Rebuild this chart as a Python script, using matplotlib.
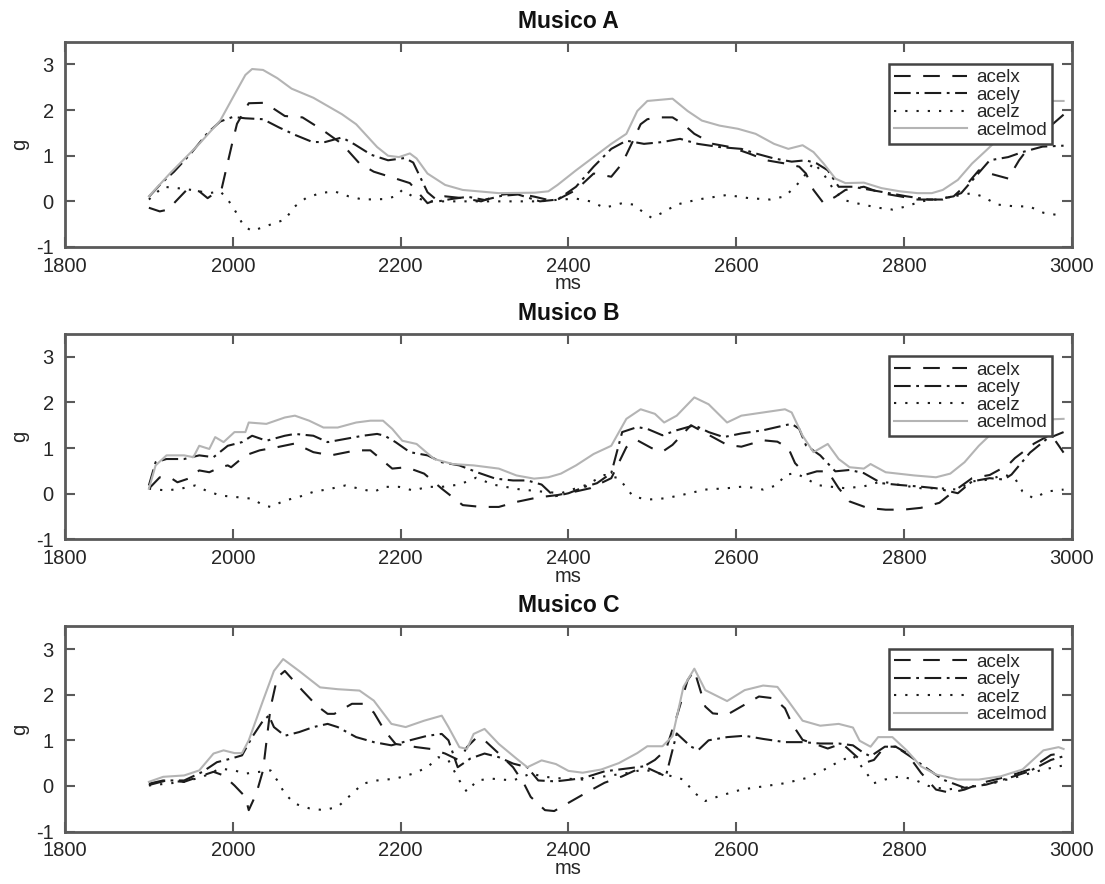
import matplotlib
matplotlib.use("Agg")
import matplotlib.pyplot as plt

plt.rcParams['font.family'] = ['Liberation Sans', 'DejaVu Sans']
plt.rcParams['lines.scale_dashes'] = False
plt.rcParams['axes.unicode_minus'] = False

# ---------------- Musico A ----------------
a_x_t = [1900, 1913, 1923, 1932, 1945, 1960, 1970, 1980, 1987, 2000, 2005, 2019, 2038, 2062, 2083,
         2108, 2130, 2151, 2168, 2194, 2211, 2232, 2253, 2274, 2296, 2317, 2338, 2360, 2383, 2409,
         2430, 2451, 2464, 2477, 2486, 2494, 2507, 2524, 2537, 2550, 2572, 2593, 2615, 2636, 2658,
         2675, 2683, 2692, 2704, 2718, 2730, 2752, 2773, 2795, 2816, 2838, 2859, 2876, 2889, 2902,
         2924, 2937, 2949, 2965, 2990]
a_x = [-0.14, -0.22, -0.18, 0.0, 0.25, 0.22, 0.07, 0.2, 0.3, 1.33, 1.7, 2.15, 2.16, 1.87, 1.84,
       1.55, 1.26, 0.83, 0.65, 0.5, 0.4, -0.04, 0.11, 0.07, 0.0, 0.14, 0.18, 0.1, 0.0, 0.25,
       0.61, 0.54, 0.83, 1.33, 1.69, 1.8, 1.84, 1.84, 1.69, 1.48, 1.26, 1.19, 1.05, 0.9, 0.83,
       0.76, 0.61, 0.25, -0.04, 0.1, 0.25, 0.32, 0.18, 0.11, 0.04, 0.04, 0.11, 0.4, 0.68, 0.61,
       0.5, 0.9, 1.19, 1.5, 1.9]

a_y_t = [1900, 1915, 1930, 1950, 1970, 1985, 2000, 2015, 2036, 2055, 2075, 2095, 2110, 2130, 2145,
         2165, 2185, 2205, 2215, 2232, 2245, 2260, 2280, 2300, 2320, 2340, 2366, 2387, 2409, 2430,
         2451, 2469, 2490, 2512, 2533, 2554, 2580, 2606, 2623, 2645, 2666, 2683, 2696, 2709, 2722,
         2739, 2760, 2782, 2803, 2829, 2846, 2868, 2885, 2902, 2924, 2941, 2965, 2990]
a_y = [0.1, 0.4, 0.65, 1.05, 1.5, 1.75, 1.85, 1.82, 1.8, 1.62, 1.45, 1.3, 1.3, 1.4, 1.25,
       1.02, 0.9, 0.95, 0.85, 0.2, 0.0, 0.05, 0.1, 0.03, 0.12, 0.15, 0.0, 0.04, 0.32, 0.76,
       1.15, 1.33, 1.26, 1.3, 1.37, 1.26, 1.19, 1.15, 1.05, 0.94, 0.87, 0.9, 0.83, 0.68, 0.32,
       0.32, 0.25, 0.18, 0.11, 0.04, 0.04, 0.18, 0.54, 0.9, 0.97, 1.08, 1.2, 1.22]

a_z_t = [1900, 1917, 1934, 1951, 1972, 1985, 1994, 2002, 2013, 2023, 2040, 2062, 2074, 2087, 2104,
         2121, 2138, 2155, 2181, 2194, 2202, 2215, 2232, 2274, 2320, 2366, 2391, 2409, 2426, 2443,
         2464, 2477, 2490, 2499, 2512, 2529, 2554, 2589, 2615, 2640, 2658, 2670, 2679, 2692, 2704,
         2718, 2730, 2743, 2769, 2786, 2803, 2820, 2838, 2859, 2881, 2893, 2911, 2932, 2949, 2966,
         2990]
a_z = [0.04, 0.32, 0.29, 0.25, 0.18, 0.22, 0.04, -0.18, -0.54, -0.65, -0.54, -0.4, -0.11, 0.07, 0.18,
       0.22, 0.11, 0.04, 0.05, 0.11, 0.25, 0.1, 0.0, 0.0, 0.0, 0.0, 0.04, 0.06, 0.0, -0.14,
       -0.04, -0.07, -0.25, -0.36, -0.25, -0.07, 0.04, 0.14, 0.07, 0.04, 0.11, 0.32, 0.5, 0.85, 0.6,
       0.2, 0.02, -0.04, -0.14, -0.18, -0.11, 0.0, 0.04, 0.11, 0.18, 0.11, -0.07, -0.11, -0.11, -0.25,
       -0.32]

a_m_t = [1900, 1925, 1960, 1985, 2002, 2015, 2023, 2036, 2053, 2070, 2096, 2130, 2147, 2172, 2185,
         2198, 2211, 2219, 2232, 2253, 2274, 2317, 2360, 2376, 2387, 2409, 2430, 2451, 2469, 2482,
         2494, 2512, 2524, 2542, 2559, 2580, 2602, 2623, 2645, 2662, 2679, 2692, 2704, 2718, 2730,
         2752, 2773, 2795, 2816, 2833, 2846, 2864, 2881, 2898, 2920, 2940, 2960, 2975, 2990]
a_m = [0.11, 0.61, 1.26, 1.77, 2.34, 2.77, 2.9, 2.88, 2.7, 2.47, 2.27, 1.91, 1.69, 1.19, 1.0,
       0.97, 1.05, 0.94, 0.61, 0.36, 0.25, 0.18, 0.19, 0.22, 0.36, 0.68, 0.97, 1.26, 1.48, 1.98,
       2.2, 2.23, 2.25, 1.98, 1.77, 1.66, 1.59, 1.48, 1.26, 1.15, 1.23, 1.08, 0.83, 0.5, 0.4,
       0.41, 0.29, 0.22, 0.18, 0.18, 0.25, 0.47, 0.83, 1.12, 1.5, 1.85, 2.1, 2.2, 2.2]

# ---------------- Musico B ----------------
b_x_t = [1900, 1913, 1925, 1934, 1947, 1960, 1972, 1985, 1994, 1998, 2015, 2032, 2053, 2074, 2096,
         2117, 2147, 2164, 2190, 2207, 2228, 2249, 2274, 2296, 2317, 2338, 2364, 2387, 2409, 2426,
         2451, 2469, 2482, 2499, 2512, 2524, 2546, 2567, 2589, 2606, 2632, 2649, 2662, 2670, 2683,
         2696, 2709, 2722, 2735, 2756, 2778, 2799, 2820, 2842, 2859, 2881, 2902, 2924, 2932, 2955,
         2975, 2990]
b_x = [0.11, 0.36, 0.36, 0.25, 0.33, 0.51, 0.47, 0.58, 0.62, 0.58, 0.84, 0.95, 1.02, 1.1, 0.91,
       0.84, 0.95, 0.95, 0.55, 0.58, 0.44, 0.11, -0.25, -0.29, -0.29, -0.18, -0.08, -0.03, 0.05, 0.12,
       0.34, 1.02, 1.17, 1.0, 0.92, 1.07, 1.5, 1.29, 1.07, 1.03, 1.17, 1.14, 1.0, 0.67, 0.42,
       0.49, 0.49, 0.12, -0.17, -0.31, -0.35, -0.35, -0.31, -0.2, 0.05, 0.34, 0.41, 0.63, 0.78, 1.1,
       1.3, 0.9]

b_y_t = [1900, 1908, 1921, 1942, 1960, 1977, 1994, 2011, 2023, 2040, 2062, 2074, 2096, 2113, 2134,
         2155, 2172, 2181, 2194, 2211, 2232, 2249, 2270, 2291, 2313, 2334, 2351, 2368, 2383, 2400,
         2421, 2434, 2451, 2464, 2482, 2494, 2512, 2529, 2550, 2567, 2585, 2606, 2632, 2658, 2666,
         2675, 2683, 2700, 2718, 2735, 2752, 2773, 2795, 2816, 2838, 2864, 2881, 2902, 2919, 2928,
         2950, 2970, 2990]
b_y = [0.18, 0.69, 0.76, 0.76, 0.84, 0.8, 1.05, 1.13, 1.27, 1.16, 1.27, 1.31, 1.27, 1.13, 1.2,
       1.27, 1.31, 1.27, 1.13, 0.91, 0.84, 0.69, 0.62, 0.47, 0.33, 0.29, 0.29, 0.2, -0.06, 0.01,
       0.16, 0.23, 0.45, 1.35, 1.46, 1.42, 1.28, 1.39, 1.5, 1.35, 1.24, 1.32, 1.39, 1.5, 1.53,
       1.42, 1.06, 0.84, 0.49, 0.52, 0.45, 0.23, 0.19, 0.16, 0.12, 0.01, 0.27, 0.34, 0.31, 0.42,
       0.9, 1.2, 1.35]

b_z_t = [1900, 1921, 1938, 1955, 1968, 1985, 2002, 2023, 2036, 2045, 2062, 2079, 2096, 2117, 2134,
         2151, 2168, 2181, 2198, 2215, 2232, 2249, 2270, 2290, 2310, 2340, 2366, 2391, 2421, 2443,
         2460, 2477, 2494, 2516, 2537, 2563, 2589, 2610, 2632, 2649, 2658, 2670, 2683, 2696, 2709,
         2730, 2752, 2773, 2795, 2820, 2842, 2864, 2881, 2902, 2919, 2932, 2941, 2954, 2971, 2990]
b_z = [0.11, 0.07, 0.11, 0.18, 0.07, -0.04, -0.07, -0.11, -0.25, -0.29, -0.15, -0.07, 0.04, 0.11, 0.18,
       0.11, 0.04, 0.15, 0.15, 0.07, 0.15, 0.15, 0.2, 0.35, 0.2, 0.1, 0.05, 0.01, 0.19, 0.41,
       0.34, -0.06, -0.13, -0.1, -0.02, 0.09, 0.12, 0.16, 0.09, 0.19, 0.41, 0.45, 0.34, 0.19, 0.16,
       0.12, 0.16, 0.27, 0.19, 0.12, 0.12, 0.09, 0.27, 0.31, 0.42, 0.34, 0.05, -0.1, 0.05, 0.09]

b_m_t = [1900, 1908, 1921, 1942, 1953, 1960, 1972, 1979, 1989, 2002, 2015, 2019, 2040, 2062, 2074,
         2091, 2108, 2125, 2147, 2164, 2179, 2190, 2202, 2219, 2240, 2262, 2287, 2317, 2338, 2359,
         2376, 2391, 2409, 2430, 2451, 2469, 2486, 2503, 2514, 2529, 2550, 2567, 2589, 2606, 2632,
         2658, 2666, 2679, 2692, 2709, 2722, 2735, 2752, 2760, 2778, 2812, 2838, 2855, 2872, 2889,
         2906, 2930, 2960, 2990]
b_m = [0.11, 0.62, 0.84, 0.84, 0.8, 1.05, 0.98, 1.24, 1.13, 1.35, 1.35, 1.56, 1.53, 1.67, 1.71,
       1.6, 1.45, 1.45, 1.56, 1.6, 1.6, 1.42, 1.16, 1.09, 0.76, 0.65, 0.62, 0.55, 0.4, 0.33,
       0.36, 0.44, 0.62, 0.87, 1.05, 1.64, 1.85, 1.75, 1.56, 1.71, 2.11, 1.96, 1.56, 1.71, 1.78,
       1.85, 1.78, 1.27, 0.91, 1.09, 0.76, 0.58, 0.55, 0.65, 0.47, 0.4, 0.36, 0.44, 0.69, 1.05,
       1.35, 1.55, 1.62, 1.64]

# ---------------- Musico C ----------------
c_x_t = [1900, 1917, 1942, 1964, 1977, 1989, 2002, 2015, 2019, 2028, 2036, 2045, 2053, 2062, 2083,
         2100, 2113, 2121, 2142, 2155, 2168, 2181, 2194, 2219, 2236, 2253, 2270, 2279, 2291, 2300,
         2317, 2334, 2347, 2355, 2372, 2383, 2400, 2421, 2443, 2464, 2490, 2503, 2516, 2529, 2542,
         2550, 2563, 2572, 2589, 2606, 2627, 2645, 2658, 2666, 2679, 2692, 2709, 2726, 2743, 2752,
         2764, 2777, 2790, 2803, 2820, 2838, 2855, 2872, 2893, 2924, 2949, 2975, 2990]
c_x = [0.05, 0.12, 0.09, 0.23, 0.31, 0.23, 0.01, -0.24, -0.53, -0.17, 0.34, 1.72, 2.38, 2.52, 2.09,
       1.76, 1.58, 1.58, 1.8, 1.8, 1.61, 1.21, 0.92, 0.85, 0.81, 0.71, 0.56, 0.85, 1.07, 1.0,
       0.71, 0.41, 0.05, -0.24, -0.53, -0.55, -0.37, -0.15, 0.07, 0.21, 0.43, 0.57, 0.79, 1.52, 2.32,
       2.53, 1.74, 1.59, 1.56, 1.74, 1.96, 1.92, 1.7, 1.37, 1.01, 0.93, 0.82, 0.93, 0.65, 0.5,
       0.57, 0.86, 0.86, 0.72, 0.29, -0.08, -0.15, -0.08, 0.07, 0.21, 0.36, 0.68, 0.72]

c_y_t = [1900, 1921, 1942, 1964, 1981, 1998, 2011, 2023, 2036, 2043, 2049, 2062, 2079, 2096, 2113,
         2125, 2147, 2168, 2189, 2211, 2232, 2249, 2257, 2268, 2283, 2300, 2317, 2334, 2351, 2364,
         2385, 2417, 2443, 2473, 2490, 2503, 2516, 2529, 2546, 2555, 2567, 2589, 2610, 2632, 2658,
         2679, 2700, 2722, 2739, 2752, 2760, 2777, 2790, 2807, 2829, 2846, 2872, 2898, 2924, 2949,
         2975, 2990]
c_y = [0.02, 0.12, 0.12, 0.31, 0.52, 0.6, 0.67, 1.07, 1.43, 1.54, 1.29, 1.1, 1.18, 1.29, 1.36,
       1.29, 1.07, 0.96, 0.89, 1.0, 1.1, 1.14, 1.0, 0.41, 0.6, 0.71, 0.63, 0.49, 0.41, 0.12,
       0.1, 0.17, 0.32, 0.39, 0.43, 0.32, 0.21, 1.15, 0.86, 0.79, 1.0, 1.07, 1.1, 1.03, 0.96,
       0.96, 0.93, 0.93, 0.89, 0.72, 0.65, 0.86, 0.86, 0.65, 0.36, 0.14, -0.04, 0.03, 0.17, 0.32,
       0.57, 0.65]

c_z_t = [1900, 1921, 1942, 1964, 1985, 2002, 2015, 2028, 2045, 2053, 2062, 2074, 2091, 2108, 2125,
         2138, 2155, 2172, 2194, 2215, 2232, 2245, 2257, 2270, 2279, 2291, 2308, 2334, 2355, 2372,
         2387, 2417, 2443, 2469, 2490, 2507, 2524, 2537, 2550, 2563, 2580, 2606, 2632, 2658, 2683,
         2705, 2722, 2739, 2752, 2764, 2777, 2795, 2812, 2829, 2851, 2881, 2906, 2937, 2966, 2990]
c_z = [0.01, 0.05, 0.09, 0.2, 0.38, 0.34, 0.27, 0.3, 0.34, 0.12, -0.17, -0.39, -0.49, -0.53, -0.46,
       -0.24, 0.05, 0.12, 0.16, 0.27, 0.41, 0.63, 0.56, 0.12, -0.13, 0.12, 0.16, 0.12, 0.27, 0.2,
       0.17, 0.14, 0.21, 0.28, 0.36, 0.28, 0.21, 0.14, -0.15, -0.33, -0.22, -0.08, -0.01, 0.06, 0.17,
       0.36, 0.53, 0.67, 0.36, 0.06, 0.14, 0.21, 0.14, 0.0, -0.08, -0.01, 0.06, 0.21, 0.36, 0.45]

c_m_t = [1900, 1917, 1942, 1960, 1977, 1989, 2002, 2011, 2019, 2036, 2049, 2060, 2079, 2104, 2125,
         2151, 2168, 2189, 2206, 2228, 2249, 2257, 2270, 2279, 2287, 2300, 2317, 2338, 2351, 2368,
         2385, 2400, 2417, 2439, 2460, 2482, 2494, 2512, 2524, 2537, 2550, 2563, 2589, 2610, 2632,
         2649, 2662, 2679, 2700, 2722, 2739, 2747, 2760, 2769, 2786, 2803, 2820, 2838, 2864, 2889,
         2915, 2941, 2966, 2984, 2990]
c_m = [0.09, 0.2, 0.23, 0.34, 0.71, 0.78, 0.72, 0.72, 1.0, 1.87, 2.52, 2.78, 2.52, 2.16, 2.12,
       2.09, 1.87, 1.36, 1.29, 1.43, 1.54, 1.29, 0.85, 0.81, 1.14, 1.25, 0.92, 0.6, 0.41, 0.56,
       0.48, 0.33, 0.29, 0.36, 0.5, 0.72, 0.87, 0.87, 1.09, 2.17, 2.57, 2.1, 1.86, 2.1, 2.2,
       2.17, 1.86, 1.43, 1.32, 1.36, 1.28, 0.99, 0.86, 1.07, 1.07, 0.78, 0.43, 0.25, 0.14, 0.14,
       0.21, 0.36, 0.78, 0.85, 0.81]

titles = ["Musico A", "Musico B", "Musico C"]
series_labels = ["acelx", "acely", "acelz", "acelmod"]
x_ticks = [1800, 2000, 2200, 2400, 2600, 2800, 3000]
y_ticks = [-1, 0, 1, 2, 3]

panels = [
    [(a_x_t, a_x), (a_y_t, a_y), (a_z_t, a_z), (a_m_t, a_m)],
    [(b_x_t, b_x), (b_y_t, b_y), (b_z_t, b_z), (b_m_t, b_m)],
    [(c_x_t, c_x), (c_y_t, c_y), (c_z_t, c_z), (c_m_t, c_m)],
]

dark = "#1c1c1c"
styles = [
    dict(color=dark, lw=1.5, dashes=(12, 9)),
    dict(color=dark, lw=1.5, dashes=(12, 4, 2, 4)),
    dict(color=dark, lw=1.5, dashes=(1.6, 6.5)),
    dict(color="#b4b4b4", lw=1.5, linestyle="-"),
]

fig = plt.figure(figsize=(11.05, 8.84), dpi=100)
left, width, height = 0.0588, 0.9113, 0.2323
bottoms = [0.7206, 0.3899, 0.0593]
frame_col = "#5a5a5a"

for title, series, bottom in zip(titles, panels, bottoms):
    ax = fig.add_axes([left, bottom, width, height])
    for (t, g), st, lab in zip(series, styles, series_labels):
        ax.plot(t, g, label=lab, **st)
    ax.set_xlim(1800, 3000)
    ax.set_ylim(-1, 3.5)
    ax.set_xticks(x_ticks)
    ax.set_yticks(y_ticks)
    ax.tick_params(direction="in", length=7, width=1.5, colors=frame_col,
                   labelcolor="#262626", labelsize=14.5, top=True, right=True)
    ax.tick_params(axis="x", pad=7)
    ax.tick_params(axis="y", pad=8)
    for sp in ax.spines.values():
        sp.set_color(frame_col)
        sp.set_linewidth(2)
    ax.set_title(title, fontsize=16.5, fontweight="bold", pad=10, color="#111111")
    ax.set_xlabel("ms", fontsize=14.5, labelpad=-1, color="#262626")
    ax.set_ylabel("g", fontsize=14.5, labelpad=5, color="#262626")
    leg = ax.legend(loc="upper right", bbox_to_anchor=(0.980, 0.891), borderaxespad=0,
                    fontsize=13.5, frameon=True, fancybox=False, framealpha=1,
                    edgecolor="#444444", handlelength=3.9, handletextpad=0.45,
                    labelspacing=0.02, borderpad=0.28)
    leg.get_frame().set_linewidth(1.8)
    leg.set_zorder(5)
    for txt in leg.get_texts():
        txt.set_color("#262626")

fig.savefig("out.png", dpi=100, facecolor="white")
